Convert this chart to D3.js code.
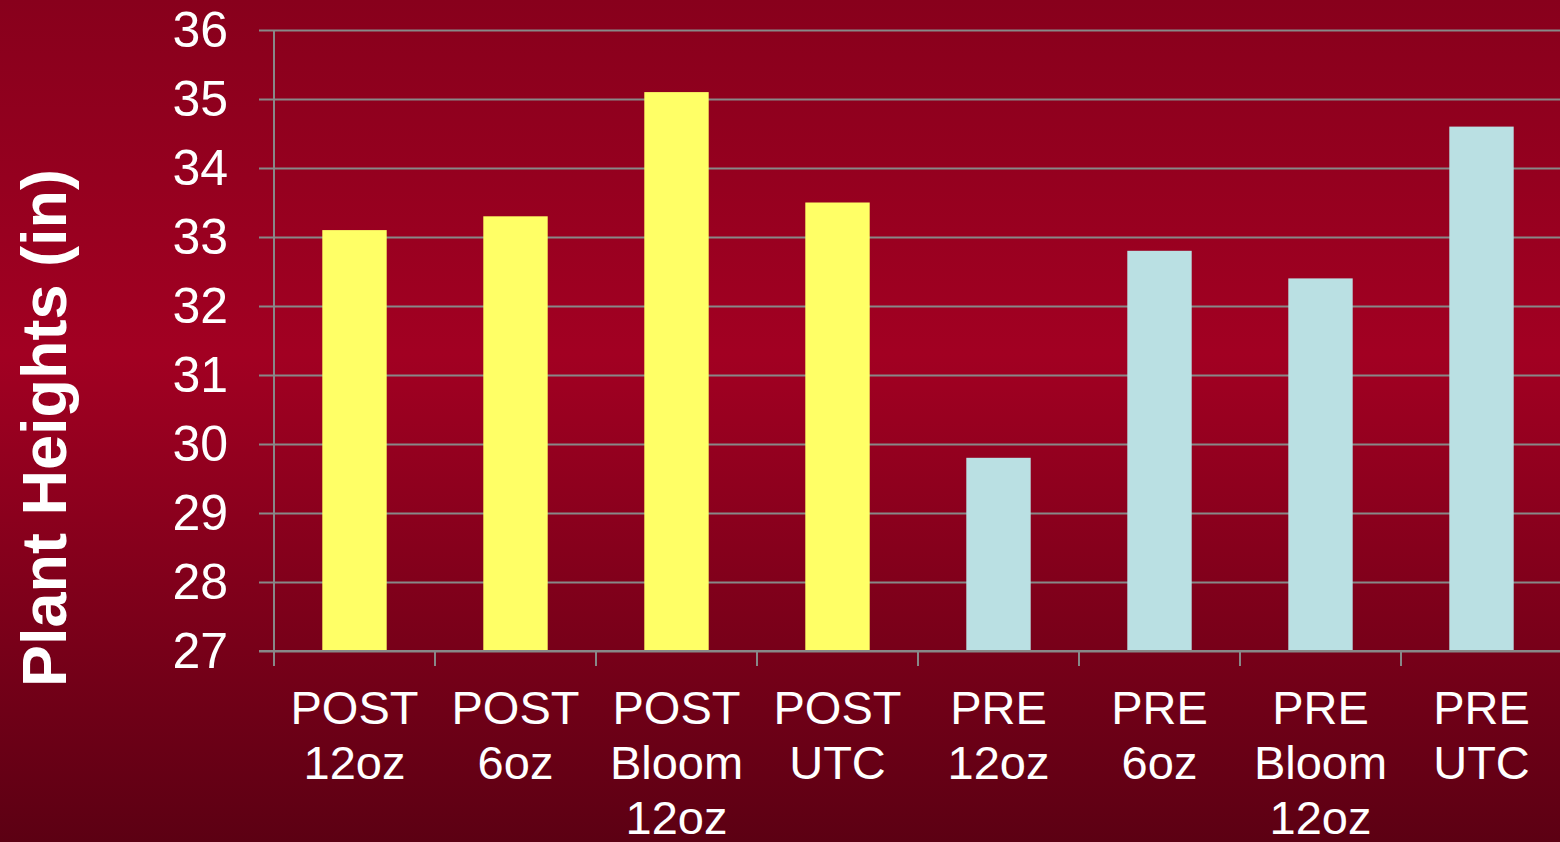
<!DOCTYPE html>
<html lang="en">
<head>
    <meta charset="UTF-8">
    <title>Plant Heights</title>
    <script src="https://d3js.org/d3.v7.min.js"></script>
    <style>
        html, body { margin: 0; padding: 0; overflow: hidden; }
        svg { display: block; font-family: "Liberation Sans", Arial, sans-serif; }
    </style>
</head>
<body>
<div id="chart"></div>
<script type="text/javascript">

    // chart data
    var categories = ["POST 12oz", "POST 6oz", "POST Bloom 12oz", "POST UTC",
                      "PRE 12oz", "PRE 6oz", "PRE Bloom 12oz", "PRE UTC"];
    var labelLines = [["POST", "12oz"], ["POST", "6oz"], ["POST", "Bloom", "12oz"], ["POST", "UTC"],
                      ["PRE", "12oz"], ["PRE", "6oz"], ["PRE", "Bloom", "12oz"], ["PRE", "UTC"]];
    var heights = [33.1, 33.3, 35.1, 33.5, 29.8, 32.8, 32.4, 34.6];
    var groups = ["POST", "POST", "POST", "POST", "PRE", "PRE", "PRE", "PRE"];
    var yTicks = [27, 28, 29, 30, 31, 32, 33, 34, 35, 36];

    var width = 1560, height = 842;
    var plotLeft = 274, plotRight = 1562, plotTop = 30, plotBottom = 651;

    var groupColor = { POST: "#ffff66", PRE: "#bae0e3" };

    var svg = d3.select("#chart")
        .append("svg")
        .attr("width", width)
        .attr("height", height);

    // background gradient
    var grad = svg.append("defs")
        .append("linearGradient")
        .attr("id", "bg")
        .attr("x1", "0%").attr("y1", "0%")
        .attr("x2", "0%").attr("y2", "100%");
    grad.append("stop").attr("offset", "0%").attr("stop-color", "#88001c");
    grad.append("stop").attr("offset", "42%").attr("stop-color", "#a20022");
    grad.append("stop").attr("offset", "100%").attr("stop-color", "#5c0013");

    svg.append("rect")
        .attr("width", width)
        .attr("height", height)
        .style("fill", "url(#bg)");

    var x = d3.scaleBand()
        .domain(categories)
        .range([plotLeft, plotRight])
        .paddingInner(0.6)
        .paddingOuter(0.3);

    var y = d3.scaleLinear()
        .domain([27, 36])
        .range([plotBottom, plotTop]);

    var gridColor = "#888888";

    // horizontal gridlines + y labels
    var yAxis = d3.axisLeft(y)
        .tickValues(yTicks)
        .tickSize(15)
        .tickPadding(31)
        .tickFormat(d3.format("d"));

    var gy = svg.append("g")
        .attr("transform", "translate(" + plotLeft + ",0)")
        .call(yAxis);
    gy.select(".domain").remove();
    gy.selectAll(".tick line")
        .attr("x1", -15)
        .attr("x2", width - plotLeft)
        .style("stroke", gridColor)
        .style("stroke-width", 2);
    gy.selectAll(".tick text")
        .style("fill", "#fff")
        .style("font-size", "50px");

    // y axis line
    svg.append("line")
        .attr("x1", plotLeft).attr("x2", plotLeft)
        .attr("y1", plotTop).attr("y2", plotBottom + 15)
        .style("stroke", gridColor)
        .style("stroke-width", 2);

    // bars
    svg.selectAll("rect.bar")
        .data(categories)
        .enter()
        .append("rect")
        .attr("class", "bar")
        .attr("x", function(d) { return x(d); })
        .attr("y", function(d, i) { return y(heights[i]); })
        .attr("width", x.bandwidth())
        .attr("height", function(d, i) { return y(27) - y(heights[i]); })
        .style("fill", function(d, i) { return groupColor[groups[i]]; });

    // x axis baseline
    svg.append("line")
        .attr("x1", plotLeft - 15).attr("x2", width)
        .attr("y1", plotBottom).attr("y2", plotBottom)
        .style("stroke", gridColor)
        .style("stroke-width", 2);

    // tick marks between categories
    var step = x.step();
    var boundaries = categories.map(function(d) { return x(d) + x.bandwidth() / 2 + step / 2; });
    svg.selectAll("line.xtick")
        .data(boundaries)
        .enter()
        .append("line")
        .attr("class", "xtick")
        .attr("x1", function(d) { return d; })
        .attr("x2", function(d) { return d; })
        .attr("y1", plotBottom)
        .attr("y2", plotBottom + 15)
        .style("stroke", gridColor)
        .style("stroke-width", 2);

    // x labels
    var xl = svg.selectAll("text.xlabel")
        .data(categories)
        .enter()
        .append("text")
        .attr("class", "xlabel")
        .attr("text-anchor", "middle")
        .style("fill", "#fff")
        .style("font-size", "47px");
    xl.each(function(d, i) {
        var t = d3.select(this);
        labelLines[i].forEach(function(line, j) {
            t.append("tspan")
                .attr("x", x(d) + x.bandwidth() / 2)
                .attr("y", 724 + j * 55)
                .text(line);
        });
    });

    // y title
    svg.append("text")
        .attr("transform", "translate(66,428) rotate(-90)")
        .attr("text-anchor", "middle")
        .style("fill", "#fff")
        .style("font-size", "63px")
        .style("font-weight", "bold")
        .text("Plant Heights (in)");

</script>
</body>
</html>
